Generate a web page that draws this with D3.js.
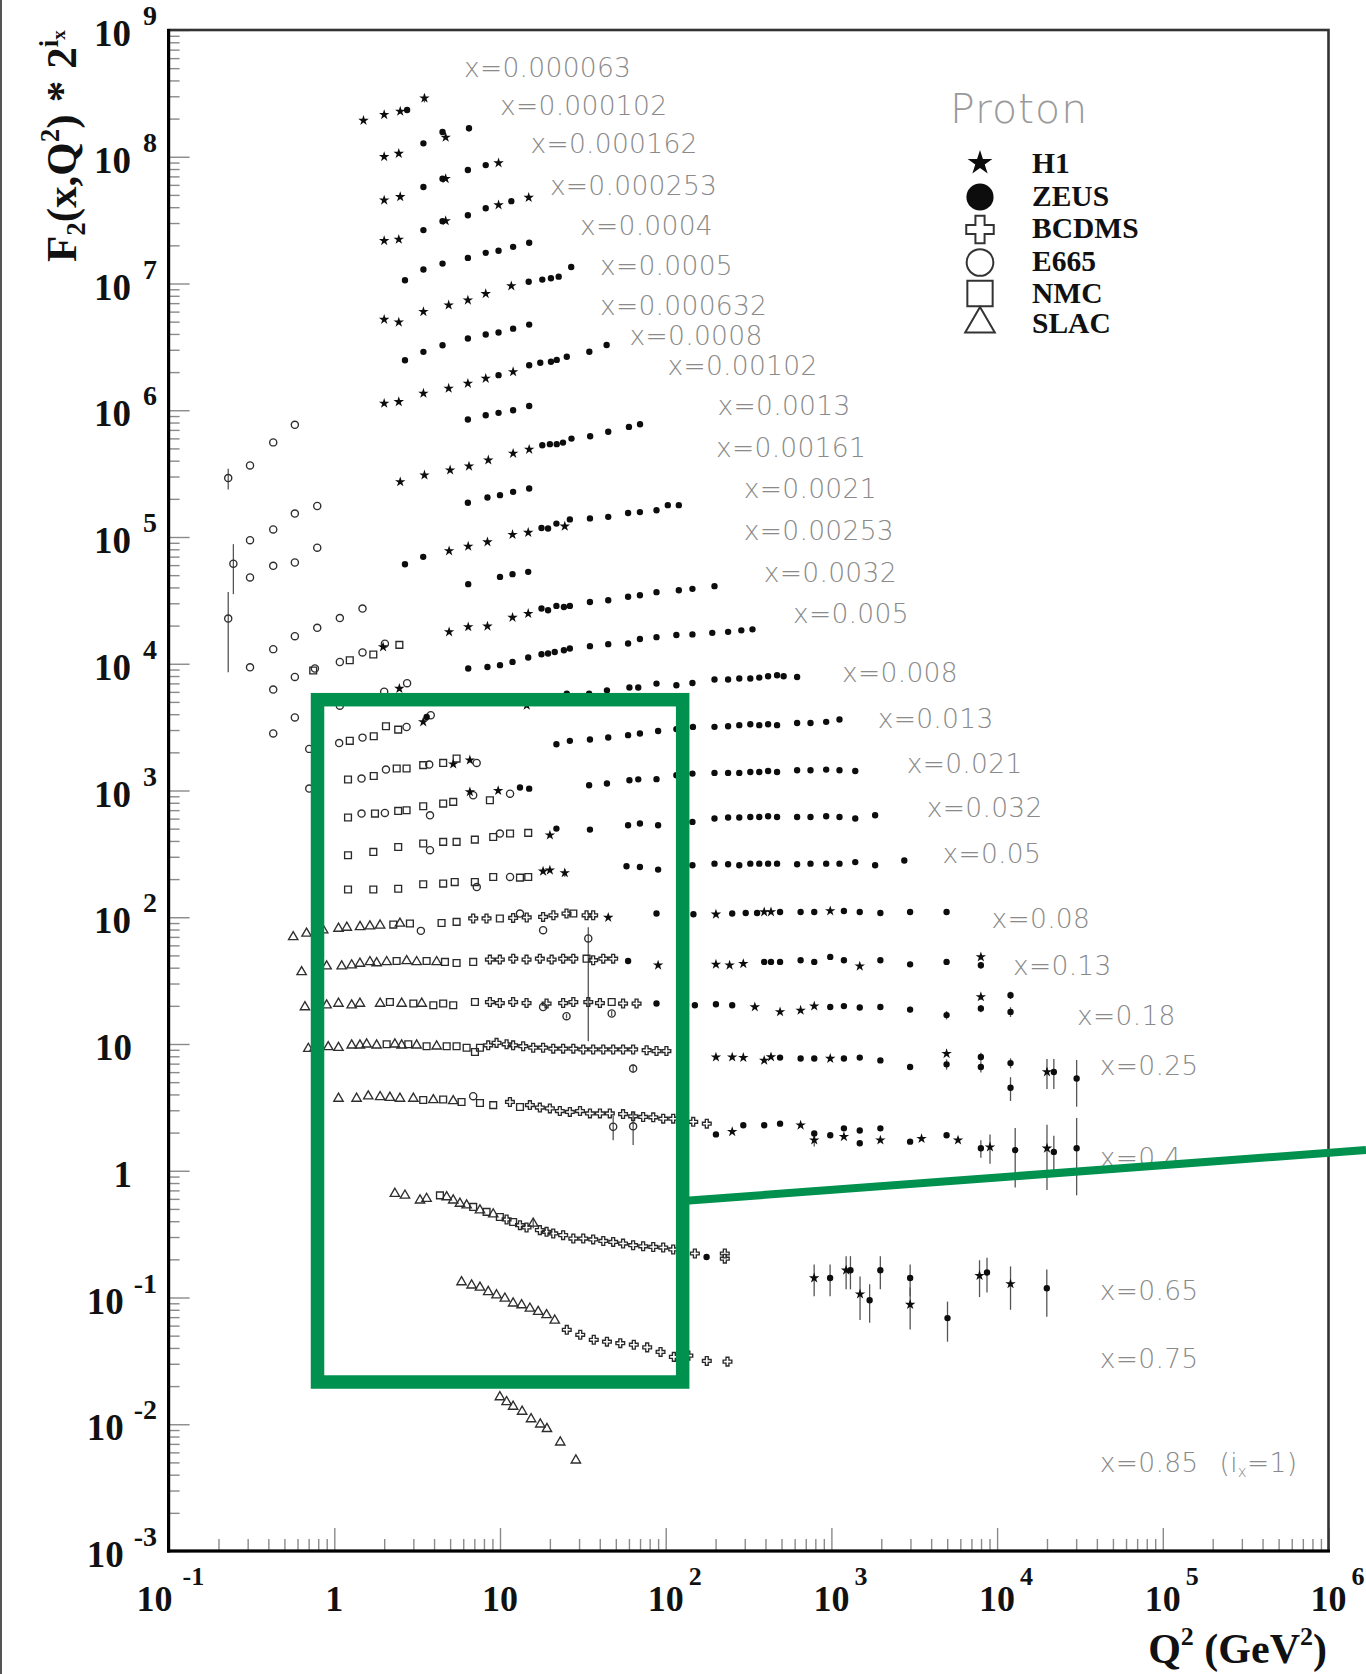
<!DOCTYPE html>
<html>
<head>
<meta charset="utf-8">
<script src="https://cdn.jsdelivr.net/npm/d3@7"></script>
<style>
  html, body { margin: 0; padding: 0; background: #ffffff; }
  svg { display: block; }
</style>
</head>
<body>
<svg id="chart" width="1366" height="1674"></svg>
<script>
// ---------------------------------------------------------------------------
// Proton structure function F2(x,Q^2), each x bin scaled by 2^ix.
// Every point is [ix, Q2 (GeV^2), F2, errDown?, errUp?]; plotted value = F2 * 2^ix.
// ---------------------------------------------------------------------------

// x bins, from the highest x (ix = 1) to the lowest (ix = 28)
const binIx     = [1, 2, 3, 4, 5, 6, 7, 8, 9, 10, 11, 12, 13, 14, 15, 16, 17, 18, 19, 20, 21, 22, 23, 24, 25, 26, 27, 28];
const binLabels = ["x=0.85", "x=0.75", "x=0.65", "x=0.4", "x=0.25", "x=0.18", "x=0.13", "x=0.08", "x=0.05",
                   "x=0.032", "x=0.021", "x=0.013", "x=0.008", "x=0.005", "x=0.0032", "x=0.00253", "x=0.0021",
                   "x=0.00161", "x=0.0013", "x=0.00102", "x=0.0008", "x=0.000632", "x=0.0005", "x=0.0004",
                   "x=0.000253", "x=0.000162", "x=0.000102", "x=0.000063"];

// axis decades
const xTickExponents = [-1, 0, 1, 2, 3, 4, 5, 6];
const yTickExponents = [-3, -2, -1, 0, 1, 2, 3, 4, 5, 6, 7, 8, 9];

// legend
const legendTitle = "Proton";
const experiments = ["H1", "ZEUS", "BCDMS", "E665", "NMC", "SLAC"];

const H1 = [
  [28,1.5,0.72],[28,2,0.80],[28,2.5,0.85],[28,3.5,1.08,0.08],
  [27,2,0.745],[27,2.45,0.79],[27,4.7,1.06],
  [26,2,0.677],[26,2.5,0.72],[26,4.7,1.0],[26,9.8,1.33],
  [25,2,0.648],[25,2.45,0.664],[25,4.7,0.93],[25,9.8,1.24],[25,14.9,1.42,0.06],
  [23,2,0.62],[23,2.45,0.59],[23,3.45,0.714],[23,4.9,0.805],[23,6.4,0.88],[23,8.2,0.99],[23,11.7,1.14],
  [21,2,0.54],[21,2.45,0.556],[21,3.45,0.648],[21,4.9,0.71],[21,6.4,0.776],[21,8.2,0.85],[21,12,0.958],
  [19,2.5,0.519],[19,3.5,0.587],[19,5,0.643],[19,6.5,0.69],[19,8.5,0.771],[19,12,0.87],[19,15,0.936],
  [17,4.93,0.592],[17,6.43,0.644],[17,8.4,0.697],[17,11.9,0.797],[17,14.8,0.827],[17,24.6,0.927],
  [15,1.97,0.414],[15,4.93,0.544],[15,6.43,0.596],[15,8.4,0.603],[15,11.9,0.707],[15,14.8,0.759],
  [14,2.47,0.389],
  [13,3.44,0.424],[13,14.5,0.574],
  [12,5.22,0.394],[12,6.58,0.424],
  [11,6.58,0.476],[11,9.75,0.487],
  [10,20,0.434],
  [9,18.2,0.45],[9,20,0.459],[9,24.6,0.437,0.03],
  [8,45,0.389],[8,201,0.412],[8,393,0.43],[8,432,0.43],[8,984,0.438],
  [7,90,0.327],[7,201,0.332],[7,243,0.327],[7,294,0.336],[7,1483,0.321],[7,7980,0.38,0.02],
  [6,345,0.306],[6,490,0.28],[6,652,0.288],[6,788,0.311],[6,7980,0.368,0.02],
  [5,201,0.246],[5,252,0.246],[5,294,0.244],[5,393,0.232],[5,432,0.247],[5,984,0.24],[5,4956,0.262],[5,20000,0.188,0.05],
  [4,252,0.127],[4,652,0.143],[4,788,0.109,0.012],[4,1190,0.116],[4,1975,0.109],[4,3500,0.112],[4,5810,0.109],
  [4,9060,0.096,0.025],[4,20000,0.094,0.05],
  [3,787,0.0178,0.005],[3,1227,0.0205,0.006],[3,1489,0.0133,0.005],[3,2987,0.011,0.004],[3,7834,0.0186,0.006],
  [3,12050,0.016,0.006]
];

const ZEUS = [
  [28,2.75,0.87],
  [27,3.45,0.95],[27,4.5,1.17],[27,6.5,1.25,0.07],
  [26,3.45,0.86],[26,4.5,1.0],[26,6.4,1.17],[26,8.2,1.28],
  [25,3.45,0.786],[25,4.5,0.925],[25,6.4,1.03],[25,8.2,1.17],[25,11.7,1.33],
  [24,2.67,0.633],[24,3.45,0.768],[24,4.5,0.856],[24,6.4,0.949],[24,8.2,1.04],[24,9.8,1.08],[24,12,1.16],[24,15,1.25],
  [23,14.9,1.23],[23,18,1.28],[23,20.3,1.31],[23,22.6,1.35],[23,26.9,1.61],
  [22,2.67,0.592],[22,3.45,0.689],[22,4.5,0.777],[22,6.4,0.878],[22,8.2,0.943],[22,9.8,0.98],[22,12,1.05],[22,15,1.13],
  [21,9.8,0.902],[21,15,1.08],[21,17.5,1.13],[21,20.3,1.15],[21,22,1.19],[21,25.3,1.26],[21,34.6,1.38],[21,44,1.56],
  [20,6.4,0.806],[20,8.2,0.871],[20,9.8,0.91],[20,12,0.954],[20,15,1.03],
  [19,18,1.01],[19,20,1.03],[19,22,1.03],[19,24,1.06],[19,27,1.14],[19,35,1.19],[19,45,1.29],[19,60,1.41],[19,70,1.48],
  [18,6.4,0.71],[18,8.4,0.782],[18,10,0.816],[18,12,0.866],[18,15,0.92],
  [17,2.67,0.465],[17,3.44,0.532],[17,17.8,0.899],[17,19.5,0.89],[17,21.9,0.973],[17,26.4,1.05],[17,34.9,1.07],
  [17,45,1.1],[17,59.3,1.18],[17,69.9,1.2],[17,88,1.24],[17,103,1.36],[17,120,1.36],
  [16,6.43,0.648],[16,10,0.739],[16,11.9,0.777],[16,14.8,0.81],
  [15,17.8,0.832],[15,19.5,0.806],[15,21.9,0.873],[15,24.3,0.856],[15,26.4,0.873],[15,34.9,0.938],[15,45,0.968],
  [15,59.3,1.03],[15,69.9,1.06],[15,88,1.12],[15,120,1.16],[15,145,1.19],[15,197,1.25],
  [14,6.43,0.56],[14,8.4,0.576],[14,10,0.595],[14,11.9,0.631],[14,14.8,0.684],[14,17.8,0.726],[14,19.5,0.735],
  [14,21.4,0.756],[14,24.3,0.78],[14,26.4,0.805],[14,34.9,0.84],[14,45,0.871],[14,59.3,0.882],[14,69.9,0.958],
  [14,88,0.99],[14,116,1.03],[14,145,1.04],[14,191,1.07],[14,238,1.09],[14,286,1.12],[14,334,1.14],
  [13,3.61,0.464],[13,25.3,0.71],[13,34.5,0.71],[13,44.2,0.753],[13,60.4,0.792],[13,68.3,0.792],[13,88,0.851],
  [13,116,0.825],[13,145,0.861],[13,197,0.916],[13,238,0.916],[13,278,0.933],[13,324,0.933],[13,367,0.949],
  [13,415,0.973],[13,470,0.99],[13,515,0.973],[13,621,0.96],
  [12,21.9,0.566],[12,26.4,0.602],[12,34.9,0.616],[12,45,0.639],[12,59.3,0.667],[12,69.9,0.688],[12,90,0.72],
  [12,116,0.745],[12,146,0.775],[12,197,0.776],[12,238,0.785],[12,278,0.8],[12,324,0.814],[12,367,0.8],
  [12,415,0.814],[12,470,0.8],[12,621,0.833],[12,748,0.833],[12,930,0.85],[12,1119,0.887],
  [11,13.2,0.515],[11,15,0.505],[11,34.5,0.537],[11,44.2,0.554],[11,60.4,0.588],[11,68.3,0.598],[11,88,0.6],
  [11,116,0.644],[11,145,0.664],[11,197,0.672],[11,238,0.672],[11,278,0.672],[11,324,0.684],[11,367,0.684],
  [11,415,0.696],[11,470,0.684],[11,621,0.705],[11,748,0.705],[11,930,0.714],[11,1119,0.705],[11,1393,0.696],
  [10,21.9,0.489],[10,34.9,0.48],[10,59.3,0.52],[10,69.9,0.536],[10,90,0.52],[10,145,0.552],[10,197,0.587],
  [10,238,0.598],[10,278,0.598],[10,324,0.604],[10,367,0.604],[10,415,0.612],[10,470,0.604],[10,621,0.604],
  [10,748,0.604],[10,930,0.612],[10,1119,0.604],[10,1393,0.587],[10,1836,0.623],
  [9,58,0.493],[9,69.9,0.487],[9,90,0.464],[9,145,0.502],[9,197,0.517],[9,238,0.511],[9,278,0.502],[9,324,0.517],
  [9,367,0.517],[9,415,0.517],[9,470,0.517],[9,621,0.511],[9,748,0.517],[9,930,0.517],[9,1119,0.517],
  [9,1393,0.532],[9,1836,0.502],[9,2754,0.547],
  [8,88,0.418],[8,147,0.412],[8,252,0.418],[8,304,0.422],[8,356,0.422],[8,490,0.43],[8,652,0.43],[8,788,0.43],
  [8,1190,0.438],[8,1483,0.43],[8,1975,0.422],[8,2985,0.43],[8,4956,0.43],
  [7,59.3,0.353],[7,393,0.347],[7,432,0.347],[7,490,0.347],[7,652,0.358],[7,788,0.347],[7,984,0.38],[7,1190,0.358],
  [7,1975,0.358],[7,2985,0.332],[7,4956,0.347],[7,7980,0.327,0.02],
  [6,88,0.326],[6,150,0.316],[6,201,0.322],[6,252,0.316],[6,984,0.306],[6,1190,0.311],[6,1483,0.303],[6,1975,0.306],
  [6,2985,0.292,0.015],[6,4956,0.264,0.02],[6,7980,0.298,0.02],[6,12050,0.379,0.025],[6,12050,0.28,0.025],
  [5,490,0.244],[5,652,0.24],[5,788,0.24],[5,1190,0.24],[5,1483,0.244],[5,1975,0.232],[5,2985,0.206],
  [5,4956,0.216,0.02],[5,7980,0.247,0.02],[5,7980,0.206,0.02],[5,12050,0.221,0.02],[5,12050,0.141,0.03],
  [5,22000,0.188,0.05],[5,30200,0.167,0.067],
  [4,201,0.121],[4,294,0.143],[4,393,0.143],[4,490,0.147],[4,788,0.123],[4,984,0.119],[4,1190,0.135],[4,1483,0.13],
  [4,1483,0.103],[4,1975,0.135],[4,2985,0.106],[4,4956,0.119],[4,7980,0.094,0.015],[4,12860,0.091,0.045],
  [4,22000,0.088,0.03],[4,30200,0.094,0.054,0.069],
  [3,176.5,0.0261],[3,982,0.0178,0.005],[3,1303,0.0205,0.006],[3,1701,0.0119,0.004],[3,1974,0.0205,0.006],
  [3,2987,0.0178,0.005],[3,5020,0.0086,0.003],[3,8690,0.0197,0.006],[3,19950,0.0148,0.006]
];

const BCDMS = [
  [8,6.89,0.382],[8,8.29,0.382],[8,12,0.386],[8,14.5,0.389],[8,18.2,0.393],[8,21,0.405],[8,25.2,0.418],[8,33.3,0.405],
  [8,36.5,0.405],
  [7,8.69,0.362],[7,9.98,0.362],[7,12.02,0.368],[7,14.46,0.362],[7,17.4,0.368],[7,20.5,0.362],[7,24.05,0.368],
  [7,27.7,0.368],[7,36.5,0.358],[7,42,0.368],[7,48.2,0.368],
  [6,8.69,0.335],[6,9.98,0.329],[6,12,0.335],[6,14.46,0.329],[6,19.1,0.326],[6,24.05,0.329],[6,27.7,0.335],
  [6,34.1,0.335],[6,40.1,0.329],[6,55.3,0.326],[6,66.7,0.326],
  [5,8.49,0.305],[5,9.53,0.319],[5,10.96,0.311],[5,12,0.305],[5,13.8,0.3],[5,15.86,0.292],[5,18.2,0.292],
  [5,20.96,0.287],[5,24.05,0.287],[5,27.7,0.287],[5,31.8,0.283],[5,36.5,0.283],[5,42,0.283],[5,48.2,0.283],
  [5,55.3,0.283],[5,63.6,0.283],[5,76.7,0.279],[5,88,0.275],[5,101,0.275],
  [4,11.48,0.218],[4,15.15,0.206],[4,17.4,0.197],[4,20,0.194],[4,22.97,0.185],[4,26.4,0.182],[4,30.4,0.185],
  [4,34.9,0.177],[4,40.1,0.177],[4,46,0.177],[4,55.3,0.175],[4,63.6,0.168],[4,73.1,0.166],[4,84.1,0.165],
  [4,96.6,0.161],[4,111,0.161],[4,127.6,0.157],[4,146.6,0.152],[4,177,0.147],
  [3,10.96,0.0516],[3,13.2,0.0465],[3,14.46,0.0446],[3,17.4,0.0425],[3,19.1,0.0412],[3,20.96,0.04],[3,24.05,0.0388],
  [3,27.7,0.0365],[3,31.8,0.0365],[3,36.5,0.0359],[3,42,0.0349],[3,48.2,0.0343],[3,55.3,0.0333],[3,63.6,0.0323],
  [3,73.1,0.0317],[3,84.1,0.0313],[3,96.6,0.031],[3,111,0.0299],[3,127.6,0.0286],[3,150,0.0278],[3,227.4,0.0278],
  [3,227.4,0.0253],
  [2,25.3,0.0139],[2,30.5,0.0127],[2,36.8,0.0116],[2,44.2,0.0112],[2,53.2,0.0109],[2,64.2,0.0106],[2,77.3,0.0101],
  [2,93.1,0.0093],[2,112,0.0085],[2,137,0.0087],[2,177,0.0079],[2,236,0.0078]
];

const E665 = [
  [21,0.229,0.139,0.026],[21,0.31,0.175],[21,0.428,0.266],[21,0.578,0.366],
  [19,0.31,0.18],[19,0.428,0.219],[19,0.578,0.292],[19,0.789,0.335],
  [18,0.246,0.235,0.1],[18,0.31,0.183],[18,0.428,0.226],[18,0.578,0.24],[18,0.789,0.314],
  [16,0.229,0.347,0.216],[16,0.31,0.143],[16,0.428,0.199],[16,0.578,0.252],[16,0.789,0.293],[16,1.08,0.35],[16,1.48,0.416],
  [15,0.428,0.191],[15,0.578,0.24],[15,0.764,0.28],[15,1.08,0.315],[15,1.48,0.375],[15,2.02,0.439],
  [14,0.428,0.172],[14,0.578,0.23],[14,1.08,0.285],[14,2.0,0.367],[14,2.75,0.429],
  [13,0.706,0.26],[13,1.07,0.289],[13,1.48,0.319],[13,2.73,0.387],[13,3.82,0.479],
  [12,0.706,0.253],[12,1.46,0.303],[12,2.05,0.357],[12,3.74,0.391],[12,7.23,0.403],
  [11,1.46,0.321],[11,2.02,0.325],[11,3.78,0.311],[11,6.89,0.448],[11,11.5,0.461],
  [10,3.78,0.33],[10,9.98,0.447],
  [9,7.24,0.338],[9,11.5,0.406],
  [8,3.33,0.305],[8,13.2,0.418],[8,18.2,0.309],[8,34.1,0.266,0.225,0.06],
  [6,18.2,0.306],[6,25.2,0.259,0.01],[6,47.2,0.272,0.012],
  [5,63.6,0.2,0.015],
  [4,6.89,0.242],[4,48.2,0.139,0.03],[4,63.6,0.14,0.04]
];

const NMC = [
  [15,0.746,0.27],[15,1.24,0.325],[15,1.72,0.361],[15,2.47,0.43],
  [13,1.24,0.301],[13,1.73,0.327],[13,2.05,0.392],[13,2.43,0.369],
  [12,1.21,0.298],[12,1.73,0.318],[12,2.38,0.364],[12,2.73,0.364],[12,3.44,0.387],[12,4.54,0.403],[12,5.47,0.436],
  [11,1.21,0.299],[11,1.76,0.321],[11,2.43,0.337],[11,2.73,0.341],[11,3.44,0.367],[11,4.54,0.385],[11,5.22,0.397],
  [11,8.69,0.409],
  [10,1.21,0.301],[10,1.72,0.32],[10,2.43,0.35],[10,3.44,0.373],[10,4.54,0.384],[10,5.47,0.384],[10,7.05,0.4],
  [10,9.1,0.42],[10,11.5,0.447],[10,14.8,0.452],
  [9,1.21,0.323],[9,1.72,0.323],[9,2.43,0.328],[9,3.44,0.356],[9,4.54,0.36],[9,5.33,0.37],[9,7.05,0.37],[9,9.1,0.406],
  [9,13.2,0.401],[9,14.8,0.406],
  [8,2.27,0.342],[8,2.86,0.349],[8,4.44,0.352],[8,5.47,0.359],[8,9.98,0.382],[8,27.7,0.418],
  [7,2.377,0.353],[7,3.606,0.353],[7,4.654,0.347],[7,5.47,0.34],[7,6.89,0.347],[7,33.3,0.368],
  [6,2.165,0.335],[6,3.0,0.326],[6,3.96,0.316],[6,4.54,0.326],[6,5.22,0.316],[6,7.06,0.335],[6,47.2,0.335],
  [5,2.07,0.311],[5,2.795,0.311],[5,3.606,0.3],[5,4.766,0.3],[5,5.47,0.3],[5,6.29,0.292],[5,7.06,0.27],[5,7.57,0.292],
  [4,3.44,0.226],[4,4.54,0.228],[4,5.86,0.218],[4,7.57,0.214],[4,9.1,0.206],[4,13.2,0.199],
  [3,4.34,0.0799],[3,6.89,0.0648],[3,8.3,0.0592],[3,9.98,0.054],[3,12,0.0493]
];

const SLAC = [
  [8,0.565,0.273],[8,0.68,0.291],[8,0.857,0.309],[8,1.06,0.318],[8,1.19,0.324],[8,1.43,0.328],[8,1.64,0.332],
  [8,1.89,0.337],[8,2.49,0.349],
  [7,0.635,0.289],[7,0.899,0.321],[7,1.108,0.321],[7,1.273,0.327],[7,1.428,0.337],[7,1.641,0.347],[7,1.801,0.34],
  [7,2.07,0.347],[7,2.733,0.353],[7,3.14,0.347],[7,4.146,0.347],
  [6,0.665,0.306],[6,0.80,0.326],[6,0.899,0.316],[6,1.06,0.326],[6,1.273,0.316],[6,1.428,0.326],[6,1.89,0.326],
  [6,2.55,0.326],[6,3.37,0.326],
  [5,0.697,0.287],[5,0.764,0.292],[5,0.919,0.296],[5,1.06,0.292],[5,1.273,0.305],[5,1.428,0.305],[5,1.567,0.311],
  [5,1.801,0.305],[5,2.32,0.311],[5,2.55,0.305],[5,3.14,0.305],[5,4.146,0.3],
  [4,1.06,0.232],[4,1.363,0.232],[4,1.603,0.242],[4,1.89,0.239],[4,2.165,0.236],[4,2.49,0.232],[4,3.0,0.232],
  [4,3.96,0.226],[4,5.22,0.222],
  [3,2.32,0.0825],[3,2.67,0.0799],[3,3.29,0.0731],[3,3.606,0.0753],[3,4.766,0.0775],[3,5.22,0.0731],[3,5.73,0.0689],
  [3,6.29,0.0668],[3,7.57,0.061],[3,9.1,0.0568],[3,15.86,0.048,0.004],
  [2,5.86,0.0331],[2,6.74,0.0312],[2,7.57,0.03],[2,8.49,0.0277],[2,9.53,0.0261],[2,10.7,0.0246],[2,12,0.0225],
  [2,13.5,0.0218],[2,15.15,0.0205],[2,17,0.0193],[2,19.1,0.0182],[2,21.4,0.0165],
  [1,9.98,0.0082],[1,10.96,0.0075],[1,12,0.0069],[1,13.6,0.0063],[1,15.4,0.0055],[1,17.5,0.005],[1,19.2,0.0046],
  [1,23.1,0.0036],[1,28.7,0.0026]
];

// ---------------------------------------------------------------------------
// layout
// ---------------------------------------------------------------------------
const W = 1366, H = 1674;
const frame = { left: 168.6, right: 1328.5, top: 30, bottom: 1551 };

// where each bin label sits, in axis units [Q2, F2*2^ix], same order as binIx
const binLabelAnchor = [
  [41680, 0.004222], [41680, 0.02763], [41680, 0.0955], [41680, 1.076], [41680, 5.69], [30360, 14.12],
  [12470, 35.03], [9252, 81.8], [4677, 266.5], [3765, 621.5], [2848, 1367], [1903, 3095], [1159, 7217],
  [586, 2.085e4], [390.8, 4.44e4], [296, 9.47e4], [296, 2.02e5], [201.2, 4.30e5], [205.7, 9.17e5],
  [102.4, 1.90e6], [60.5, 3.30e6], [40.1, 5.643e6], [40.1, 1.167e7], [30.4, 2.413e7], [20.0, 4.99e7],
  [15.26, 1.065e8], [10.0, 2.135e8], [6.06, 4.28e8]
];

// highlighted window and its pointer, in axis units
const zoomWindow = { q2: [0.792, 126.6], v: [0.02154, 5205] };
const pointer = { from: [126.6, 0.577], to: [1.684e6, 1.458] };

const serif = "'Liberation Serif','Times New Roman',Times,serif";
const sans = "'DejaVu Sans','Noto Sans',sans-serif";
const green = "#00914f";

const svg = d3.select("#chart");
svg.append("rect").attr("width", W).attr("height", H).attr("fill", "#ffffff");

// thin page edge on the left
svg.append("line").attr("x1", 1).attr("x2", 1).attr("y1", 0).attr("y2", H)
  .attr("stroke", "#555").attr("stroke-width", 2);

const x = d3.scaleLog().domain([1e-1, 1e6]).range([frame.left, frame.right]);
const y = d3.scaleLog().domain([1e-3, 1e9]).range([frame.bottom, frame.top]);
const scaled = (ix, f2) => f2 * Math.pow(2, ix);

// ---------------------------------------------------------------------------
// axes: major and minor ticks pointing into the frame
// ---------------------------------------------------------------------------
const minorOf = exps => {
  const out = [];
  for (let i = 0; i < exps.length - 1; i++)
    for (let k = 2; k <= 9; k++) out.push(k * Math.pow(10, exps[i]));
  return out;
};
const xMajor = xTickExponents.map(e => Math.pow(10, e));
const yMajor = yTickExponents.map(e => Math.pow(10, e));

function styleTicks(g) {
  g.select(".domain").remove();
  g.selectAll(".tick line").attr("stroke", "#8a8a8a").attr("stroke-width", 1.4);
  g.selectAll(".tick text").remove();
}
svg.append("g").attr("transform", `translate(${frame.left},0)`)
  .call(d3.axisLeft(y).tickValues(yMajor).tickSize(-21).tickFormat("")).call(styleTicks);
svg.append("g").attr("transform", `translate(${frame.left},0)`)
  .call(d3.axisLeft(y).tickValues(minorOf(yTickExponents)).tickSize(-11).tickFormat("")).call(styleTicks);
svg.append("g").attr("transform", `translate(0,${frame.bottom})`)
  .call(d3.axisBottom(x).tickValues(xMajor).tickSize(-23).tickFormat("")).call(styleTicks);
svg.append("g").attr("transform", `translate(0,${frame.bottom})`)
  .call(d3.axisBottom(x).tickValues(minorOf(xTickExponents)).tickSize(-12).tickFormat("")).call(styleTicks);

// frame
svg.append("rect").attr("x", frame.left).attr("y", frame.top)
  .attr("width", frame.right - frame.left).attr("height", frame.bottom - frame.top)
  .attr("fill", "none").attr("stroke", "#333").attr("stroke-width", 2.6);
svg.append("line").attr("x1", frame.left).attr("x2", frame.left).attr("y1", frame.top - 1).attr("y2", frame.bottom + 1.5)
  .attr("stroke", "#000").attr("stroke-width", 3.2);
svg.append("line").attr("x1", frame.left - 1.5).attr("x2", frame.right + 1.5).attr("y1", frame.bottom).attr("y2", frame.bottom)
  .attr("stroke", "#000").attr("stroke-width", 3.2);

// tick labels: 10 with a raised exponent
const yLab = svg.append("g").attr("font-family", serif).attr("font-weight", "bold").attr("fill", "#111");
yTickExponents.forEach(e => {
  const ty = y(Math.pow(10, e));
  if (e === 0 || e === 1) {
    yLab.append("text").attr("x", 132).attr("y", ty + 16).attr("text-anchor", "end")
      .attr("font-size", 37).text(e === 0 ? "1" : "10");
  } else {
    const t = yLab.append("text").attr("x", 157).attr("y", ty + 16).attr("text-anchor", "end");
    t.append("tspan").attr("font-size", 37).text("10");
    t.append("tspan").attr("font-size", 28).attr("dx", e < 0 ? 10 : 12).attr("dy", -21).text(String(e));
  }
});
const xLab = svg.append("g").attr("font-family", serif).attr("font-weight", "bold").attr("fill", "#111");
xTickExponents.forEach(e => {
  const tx = x(Math.pow(10, e));
  if (e === 0 || e === 1) {
    xLab.append("text").attr("x", tx).attr("y", 1611).attr("text-anchor", "middle")
      .attr("font-size", 36).text(e === 0 ? "1" : "10");
  } else {
    const t = xLab.append("text").attr("x", tx - (e < 0 ? 32 : 18)).attr("y", 1611);
    t.append("tspan").attr("font-size", 36).text("10");
    t.append("tspan").attr("font-size", 26).attr("dx", e < 0 ? 10 : 5).attr("dy", -26).text(String(e));
  }
});

// axis titles
const yTitle = svg.append("text").attr("transform", "translate(76,262) rotate(-90)")
  .attr("font-family", serif).attr("font-weight", "bold").attr("font-size", 43).attr("fill", "#111");
yTitle.append("tspan").text("F");
yTitle.append("tspan").attr("font-size", 27).attr("dy", 9).text("2");
yTitle.append("tspan").attr("dy", -9).text("(x,Q");
yTitle.append("tspan").attr("font-size", 27).attr("dy", -17).text("2");
yTitle.append("tspan").attr("dy", 17).text(")");
yTitle.append("tspan").attr("dx", 12).text("*");
yTitle.append("tspan").attr("dx", 12).text("2");
yTitle.append("tspan").attr("font-size", 27).attr("dy", -18).text("i");
yTitle.append("tspan").attr("font-size", 19).attr("dy", 7).text("x");

const xTitle = svg.append("text").attr("x", 1327).attr("y", 1663).attr("text-anchor", "end")
  .attr("font-family", serif).attr("font-weight", "bold").attr("font-size", 42).attr("fill", "#111");
xTitle.append("tspan").text("Q");
xTitle.append("tspan").attr("font-size", 26).attr("dy", -18).text("2");
xTitle.append("tspan").attr("dy", 18).text(" (GeV");
xTitle.append("tspan").attr("font-size", 26).attr("dy", -18).text("2");
xTitle.append("tspan").attr("dy", 18).text(")");

// ---------------------------------------------------------------------------
// bin labels
// ---------------------------------------------------------------------------
const lab = svg.append("g").attr("font-family", sans).attr("font-size", 26.5).attr("font-weight", 300)
  .attr("fill", "#8a8a8a").attr("letter-spacing", 0.3);
binIx.forEach((ix, i) => {
  const [q, v] = binLabelAnchor[i];
  const t = lab.append("text").attr("x", x(q)).attr("y", y(v)).text(binLabels[i]);
  if (ix === 1) {
    t.append("tspan").attr("dx", 21).text("(i");
    t.append("tspan").attr("font-size", 15).attr("dy", 5).text("x");
    t.append("tspan").attr("dy", -5).text("=1)");
  }
});

// ---------------------------------------------------------------------------
// data
// ---------------------------------------------------------------------------
const markStyles = {
  H1:    { type: d3.symbolStar,     size: 34, fill: "#0d0d0d", stroke: "none" },
  ZEUS:  { type: d3.symbolCircle,   size: 32, fill: "#0d0d0d", stroke: "none" },
  BCDMS: { type: d3.symbolCross,    size: 42, fill: "none", stroke: "#2a2a2a" },
  E665:  { type: d3.symbolCircle,   size: 40, fill: "none", stroke: "#2e2e2e" },
  NMC:   { type: d3.symbolSquare,   size: 46, fill: "none", stroke: "#2a2a2a" },
  SLAC:  { type: d3.symbolTriangle, size: 38, fill: "none", stroke: "#2e2e2e" }
};
const series = { H1, ZEUS, BCDMS, E665, NMC, SLAC };
const drawOrder = ["SLAC", "NMC", "E665", "BCDMS", "ZEUS", "H1"];

const errG = svg.append("g").attr("stroke", "#555").attr("stroke-width", 1.3);
const markG = svg.append("g");
drawOrder.forEach(name => {
  const pts = series[name];
  const st = markStyles[name];
  errG.selectAll(null).data(pts.filter(p => p.length > 3)).join("line")
    .attr("x1", d => x(d[1])).attr("x2", d => x(d[1]))
    .attr("y1", d => y(scaled(d[0], Math.max(d[2] - d[3], d[2] * 0.05))))
    .attr("y2", d => y(scaled(d[0], d[2] + (d.length > 4 ? d[4] : d[3]))));
  markG.append("g").selectAll("path").data(pts).join("path")
    .attr("d", d3.symbol().type(st.type).size(st.size))
    .attr("transform", d => `translate(${x(d[1])},${y(scaled(d[0], d[2]))})`)
    .attr("fill", st.fill).attr("stroke", st.stroke).attr("stroke-width", 1.35);
});

// ---------------------------------------------------------------------------
// legend
// ---------------------------------------------------------------------------
svg.append("text").attr("x", 950).attr("y", 123).attr("font-family", sans).attr("font-size", 41)
  .attr("font-weight", 300).attr("letter-spacing", 1).attr("fill", "#9a9a9a").text(legendTitle);
const legendRows = [
  { key: "H1",    cy: 163,   base: 173, size: 190 },
  { key: "ZEUS",  cy: 197,   base: 206, size: 580 },
  { key: "BCDMS", cy: 229.5, base: 238, size: 420 },
  { key: "E665",  cy: 262.5, base: 271, size: 560 },
  { key: "NMC",   cy: 293.5, base: 303, size: 640 },
  { key: "SLAC",  cy: 324,   base: 333, size: 380 }
];
const leg = svg.append("g");
legendRows.forEach((r, i) => {
  const st = markStyles[r.key];
  leg.append("path").attr("d", d3.symbol().type(st.type).size(r.size)())
    .attr("transform", `translate(980,${r.cy})`)
    .attr("fill", st.fill).attr("stroke", st.stroke === "none" ? "none" : "#333").attr("stroke-width", 2);
  leg.append("text").attr("x", 1032).attr("y", r.base).attr("font-family", serif).attr("font-weight", "bold")
    .attr("font-size", 29.5).attr("fill", "#111").text(experiments[i]);
});

// ---------------------------------------------------------------------------
// highlighted window with its pointer
// ---------------------------------------------------------------------------
svg.append("rect")
  .attr("x", x(zoomWindow.q2[0])).attr("y", y(zoomWindow.v[1]))
  .attr("width", x(zoomWindow.q2[1]) - x(zoomWindow.q2[0]))
  .attr("height", y(zoomWindow.v[0]) - y(zoomWindow.v[1]))
  .attr("fill", "none").attr("stroke", green).attr("stroke-width", 13.5);
svg.append("line")
  .attr("x1", x(pointer.from[0])).attr("y1", y(pointer.from[1]))
  .attr("x2", x(pointer.to[0])).attr("y2", y(pointer.to[1]))
  .attr("stroke", green).attr("stroke-width", 8);
</script>
</body>
</html>
